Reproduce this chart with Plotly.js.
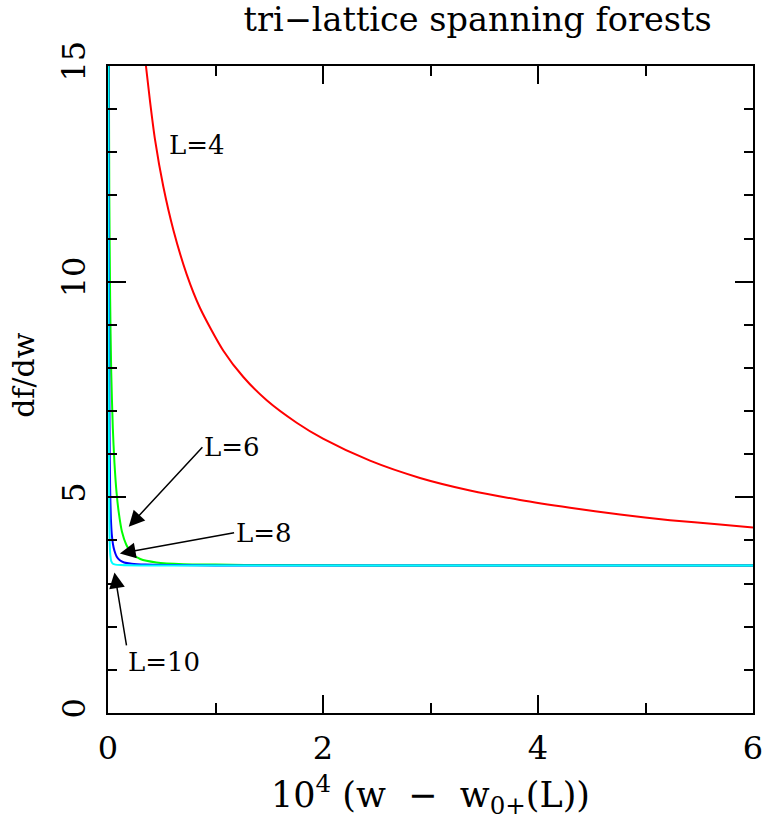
<!DOCTYPE html>
<html>
<head>
<meta charset="utf-8">
<script src="https://cdn.plot.ly/plotly-3.0.1.min.js"></script>
<style>
html,body{margin:0;padding:0;background:#fff;}
#chart{width:766px;height:825px;}
</style>
</head>
<body>
<div id="chart"></div>
<script>
// L = 4 (red)
const xL4 = [0.353, 0.39, 0.437, 0.515, 0.608, 0.732, 0.856, 1.073, 1.259, 1.476, 1.755, 2.0, 2.437, 2.902, 3.367, 3.833, 4.298, 4.763, 5.228, 5.693, 6.0];
const yL4 = [15.0, 14.2, 13.3, 12.2, 11.2, 10.17, 9.39, 8.40, 7.79, 7.25, 6.73, 6.36, 5.85, 5.45, 5.16, 4.94, 4.76, 4.60, 4.47, 4.37, 4.30];
// L = 6 (green)
const xL6 = [0.008, 0.012, 0.02, 0.03, 0.045, 0.06, 0.08, 0.10, 0.13, 0.17, 0.22, 0.30, 0.45, 0.7, 1.0, 1.5, 2.5, 4.0, 6.0];
const yL6 = [15.0, 12.0, 9.6, 7.9, 6.6, 5.8, 5.1, 4.65, 4.2, 3.9, 3.7, 3.57, 3.49, 3.45, 3.44, 3.43, 3.42, 3.42, 3.42];
// L = 8 (blue)
const xL8 = [0.005, 0.008, 0.011, 0.015, 0.02, 0.027, 0.035, 0.045, 0.06, 0.08, 0.11, 0.15, 0.22, 0.35, 0.6, 1.0, 2.0, 4.0, 6.0];
const yL8 = [15.0, 11.0, 8.3, 6.4, 5.2, 4.5, 4.15, 3.93, 3.76, 3.63, 3.54, 3.49, 3.46, 3.44, 3.43, 3.42, 3.42, 3.42, 3.42];
// L = 10 (cyan)
const xL10 = [0.003, 0.005, 0.007, 0.009, 0.012, 0.016, 0.022, 0.03, 0.045, 0.07, 0.12, 0.3, 1.0, 3.0, 6.0];
const yL10 = [15.0, 10.5, 7.5, 5.8, 4.6, 3.95, 3.65, 3.52, 3.46, 3.44, 3.43, 3.42, 3.42, 3.42, 3.42];

const xTickVals = [0, 2, 4, 6];
const xTickText = ['0', '2', '4', '6'];
const yTickVals = [0, 5, 10, 15];
const yTickText = ['0', '5', '10', '15'];

const FONT = 'DejaVu Serif, Liberation Serif, serif';

const traces = [
  {x: xL4, y: yL4, name: 'L=4', color: '#ff0000'},
  {x: xL6, y: yL6, name: 'L=6', color: '#00ff00'},
  {x: xL8, y: yL8, name: 'L=8', color: '#0000ff'},
  {x: xL10, y: yL10, name: 'L=10', color: '#00ffff'}
].map(s => ({
  type: 'scatter', mode: 'lines', x: s.x, y: s.y, name: s.name,
  line: {color: s.color, width: 2, shape: 'spline', smoothing: 0.7}, hoverinfo: 'skip'
}));

const axisCommon = {
  showline: true, linecolor: '#000', linewidth: 2, mirror: 'ticks',
  ticks: 'inside', ticklen: 18, tickwidth: 2, tickcolor: '#000',
  showgrid: false, zeroline: false,
  tickfont: {family: FONT, size: 32, color: '#000'}
};

const annFont = {family: FONT, size: 26, color: '#000'};
const arrowStyle = {showarrow: true, arrowhead: 2, arrowsize: 2.1, arrowwidth: 1.5, arrowcolor: '#000', standoff: 0, startstandoff: 0};

const layout = {
  width: 766, height: 825,
  margin: {l: 108, r: 13, t: 66, b: 112},
  paper_bgcolor: '#fff', plot_bgcolor: '#fff',
  showlegend: false,
  font: {family: FONT, color: '#000'},
  title: {
    text: 'tri\u2212lattice spanning forests',
    font: {family: FONT, size: 33.5, color: '#000'},
    x: 0.573, xref: 'paper', xanchor: 'center',
    y: 0.977, yref: 'container', yanchor: 'middle'
  },
  xaxis: Object.assign({}, axisCommon, {
    range: [0, 6], tickvals: xTickVals, ticktext: xTickText,
    minor: {dtick: 1, ticks: 'inside', ticklen: 10, tickwidth: 2, tickcolor: '#000'},
    ticklabelstandoff: 6,
    title: {text: '10<sup>4</sup>\u00a0(w\u00a0\u00a0\u2212\u00a0\u00a0w<sub>0+</sub>(L))', font: {family: FONT, size: 35, color: '#000'}, standoff: 16}
  }),
  yaxis: Object.assign({}, axisCommon, {
    range: [0, 15], tickvals: yTickVals, ticktext: yTickText, tickangle: -90,
    minor: {dtick: 1, ticks: 'inside', ticklen: 9, tickwidth: 2, tickcolor: '#000'},
    ticklabelstandoff: 8,
    title: {text: '\u200b\u00a0\u00a0\u00a0df/dw', font: {family: FONT, size: 30, color: '#000'}, standoff: 12}
  }),
  annotations: [
    {x: 0.832, y: 13.18, xref: 'x', yref: 'y', text: 'L=4', showarrow: false, font: annFont},
    Object.assign({x: 0.193, y: 4.32, ax: 0.878, ay: 6.16, xref: 'x', yref: 'y', axref: 'x', ayref: 'y',
      text: 'L=6', xanchor: 'left', yanchor: 'middle', font: annFont}, arrowStyle),
    Object.assign({x: 0.110, y: 3.70, ax: 1.173, ay: 4.18, xref: 'x', yref: 'y', axref: 'x', ayref: 'y',
      text: 'L=8', xanchor: 'left', yanchor: 'middle', font: annFont}, arrowStyle),
    Object.assign({x: 0.060, y: 3.26, ax: 0.172, ay: 1.57, xref: 'x', yref: 'y', axref: 'x', ayref: 'y',
      text: 'L=10', xanchor: 'left', yanchor: 'top', font: annFont}, arrowStyle)
  ]
};

Plotly.newPlot('chart', traces, layout, {displayModeBar: false, staticPlot: true});
</script>
</body>
</html>
